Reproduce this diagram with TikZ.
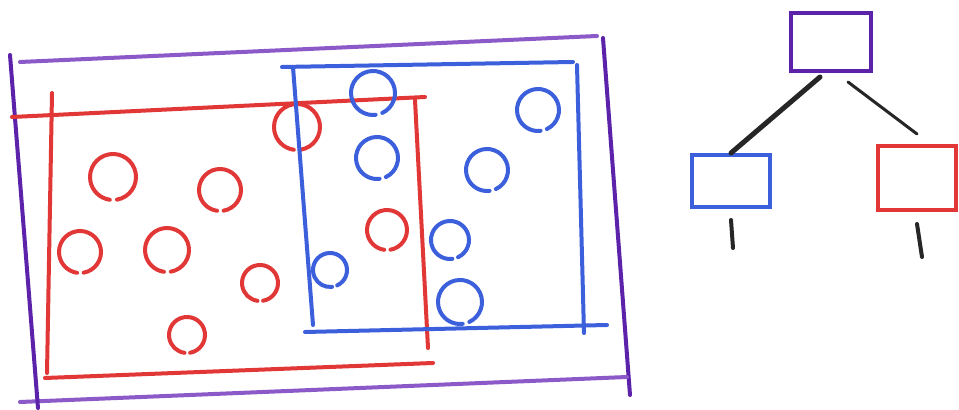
\documentclass[tikz,border=0pt]{standalone}
\usepackage{xcolor}
\usepackage{tikz}
\usetikzlibrary{positioning}

\definecolor{grapeDark}{RGB}{92,35,170}
\definecolor{grapeLight}{RGB}{140,90,200}
\definecolor{cherry}{RGB}{225,55,55}
\definecolor{cobalt}{RGB}{60,95,220}

\begin{document}
\begin{tikzpicture}[x=0.5pt, y=-0.5pt]
    \tikzstyle{sketch} = [line width=2pt, line cap=round]
    \tikzstyle{treebox} = [rectangle, draw, line width=2pt, inner sep=0pt]
    \tikzstyle{link} = [line cap=round, color=black!85]

    \useasboundingbox[fill=white] (0,0) rectangle (959,410);

    % outer purple frame
    \draw[sketch, grapeLight] (20,62) -- (597,36);
    \draw[sketch, grapeDark]  (603,38) -- (630,395);
    \draw[sketch, grapeLight] (20,402) -- (627,377);
    \draw[sketch, grapeDark]  (10,55) -- (38,408);

    % red frame
    \draw[sketch, cherry] (12,117) -- (425,97);
    \draw[sketch, cherry] (52,93) -- (47,373);
    \draw[sketch, cherry] (45,378) -- (433,363);
    \draw[sketch, cherry] (415,100) -- (428,348);

    % red points
    \foreach \x/\y/\r in {113/177/23, 220/190/21, 80/252/21, 167/250/22,
                          260/283/18, 187/335/18, 297/127/23, 387/230/20}
        \draw[sketch, cherry] (\x,\y) ++(-80:\r*0.5pt)
            arc[start angle=-80, end angle=262, radius=\r*0.5pt];

    % blue frame
    \draw[sketch, cobalt] (282,67) -- (573,62);
    \draw[sketch, cobalt] (293,67) -- (313,325);
    \draw[sketch, cobalt] (305,332) -- (607,325);
    \draw[sketch, cobalt] (577,65) -- (584,333);

    % blue points
    \foreach \x/\y/\r in {373/93/22, 377/158/21, 330/270/17, 538/110/21,
                          487/170/21, 450/240/19, 460/302/22}
        \draw[sketch, cobalt] (\x,\y) ++(-65:\r*0.5pt)
            arc[start angle=-65, end angle=277, radius=\r*0.5pt];

    % tree
    \node (root)  [treebox, draw=grapeDark, minimum width=40pt, minimum height=29pt] at (831,42) {};
    \node (left)  [treebox, draw=cobalt, minimum width=39pt, minimum height=26pt] at (731,181) {};
    \node (right) [treebox, draw=cherry, minimum width=39pt, minimum height=32pt] at (917,178) {};
    \coordinate (leftEnd)  at (733,248);
    \coordinate (rightEnd) at (922,257);

    \draw[link, line width=2.5pt] ([xshift=-5.5pt, yshift=-2pt]root.south) -- (left.north);
    \draw[link, line width=1.5pt] ([xshift=8.5pt, yshift=-4.5pt]root.south) -- ([yshift=5pt]right.north);
    \draw[link, line width=2pt] ([yshift=-5.5pt]left.south) -- (leftEnd);
    \draw[link, line width=2pt] ([yshift=-6pt]right.south) -- (rightEnd);
  \end{tikzpicture}
\end{document}
